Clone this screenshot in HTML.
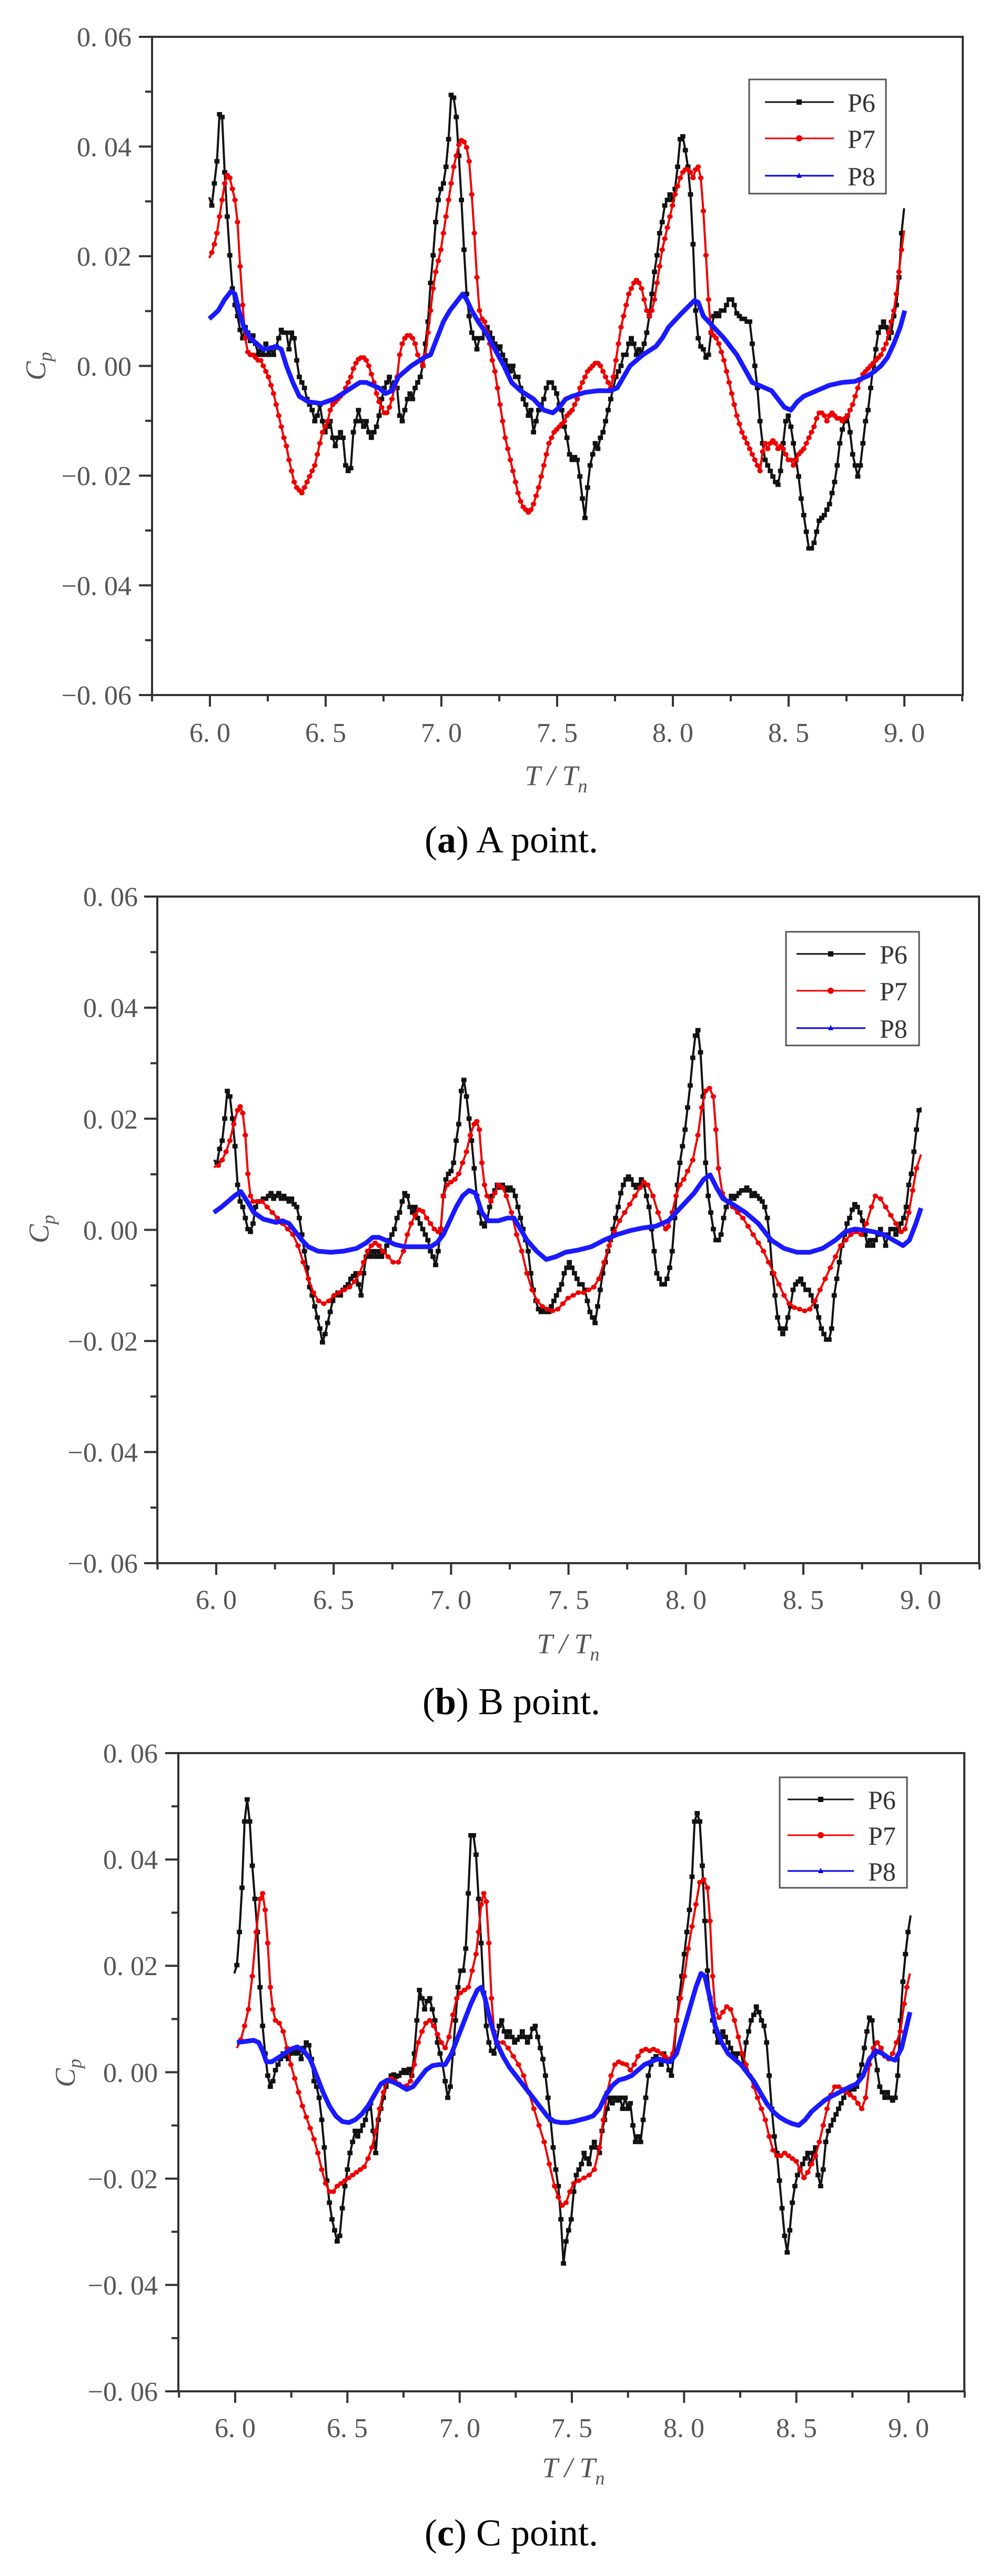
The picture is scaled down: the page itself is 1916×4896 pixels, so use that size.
<!DOCTYPE html>
<html><head><meta charset="utf-8"><style>
html,body{margin:0;padding:0;background:#fff}
svg{display:block}
.tl{font-family:"Liberation Serif","Noto Serif CJK SC",serif;font-size:52px;fill:#555}
.lg{font-family:"Liberation Serif",serif;font-size:50px;fill:#333}
.cap{font-family:"Liberation Serif",serif;font-size:72px;fill:#000}
.ax{font-family:"Liberation Serif",serif;font-size:54px;fill:#555;font-style:italic}
</style></head><body>
<svg width="1916" height="4896" viewBox="0 0 1916 4896" xmlns="http://www.w3.org/2000/svg">
<defs>
<marker id="ms" markerUnits="userSpaceOnUse" markerWidth="10" markerHeight="10" refX="5" refY="5"><rect x="1" y="1" width="8" height="8" fill="#111"/></marker>
<marker id="mc" markerUnits="userSpaceOnUse" markerWidth="10" markerHeight="10" refX="5" refY="5"><circle cx="5" cy="5" r="4.3" fill="#e00"/></marker>
</defs>
<rect width="1916" height="4896" fill="#fff"/>

<!-- ================= PANEL A ================= -->
<g stroke="#333" stroke-width="4" fill="none">
<rect x="289" y="70" width="1541" height="1251"/>
<path d="M264 70H289M276 174.25H289M264 278.5H289M276 382.75H289M264 487H289M276 591.25H289M264 695.5H289M276 799.75H289M264 904H289M276 1008.25H289M264 1112.5H289M276 1216.75H289M264 1321H289"/>
<path d="M289 1321V1333M399 1321V1343M509 1321V1333M619 1321V1343M729 1321V1333M839 1321V1343M949 1321V1333M1059 1321V1343M1169 1321V1333M1279 1321V1343M1389 1321V1333M1499 1321V1343M1609 1321V1333M1719 1321V1343M1829 1321V1333"/>
</g>
<g class="tl" text-anchor="end">
<text x="250" y="88">0. 06</text><text x="250" y="297">0. 04</text><text x="250" y="505">0. 02</text><text x="250" y="714">0. 00</text><text x="250" y="922">−0. 02</text><text x="250" y="1131">−0. 04</text><text x="250" y="1339">−0. 06</text>
</g>
<g class="tl" text-anchor="middle">
<text x="399" y="1410">6. 0</text><text x="619" y="1410">6. 5</text><text x="839" y="1410">7. 0</text><text x="1059" y="1410">7. 5</text><text x="1279" y="1410">8. 0</text><text x="1499" y="1410">8. 5</text><text x="1719" y="1410">9. 0</text>
</g>
<text class="ax" x="1057" y="1492" text-anchor="middle">T / T<tspan font-size="36" dy="14">n</tspan></text>
<text class="ax" transform="translate(86,696) rotate(-90)" text-anchor="middle">C<tspan font-size="36" dy="12">p</tspan></text>
<text class="cap" x="972" y="1620" text-anchor="middle">(<tspan font-weight="bold">a</tspan>) A point.</text>
<g>
<rect x="1424" y="151" width="260" height="217" fill="#fff" stroke="#555" stroke-width="3"/>
<path d="M1454 194H1585" stroke="#111" stroke-width="3"/><rect x="1514" y="189" width="10" height="10" fill="#111"/>
<path d="M1454 263H1585" stroke="#e00" stroke-width="3"/><circle cx="1519" cy="263" r="6" fill="#e00"/>
<path d="M1454 334H1585" stroke="#00e" stroke-width="3"/><path d="M1519 328L1524 338H1514Z" fill="#00e"/>
<text class="lg" x="1611" y="212">P6</text><text class="lg" x="1611" y="281">P7</text><text class="lg" x="1611" y="352">P8</text>
</g>
<g transform="matrix(1.223,0,0,1.051,-1,1.7)" fill="none" stroke-linejoin="round">
<polyline vector-effect="non-scaling-stroke" stroke="#111" stroke-width="4" marker-mid="url(#ms)" points="326,355 330,370 334,330 338,290 342,205 346,210 350,310 354,390 358,460 362,520 366,550 370,570 374,595 378,610 382,590 386,600 390,615 394,605 398,620 402,640 406,630 410,640 414,620 418,640 422,630 426,640 430,625 434,610 438,595 442,600 446,600 450,630 454,600 458,610 462,650 466,680 470,690 474,700 478,720 482,730 486,740 490,760 494,750 498,730 502,760 506,780 510,770 514,760 518,790 522,805 526,790 530,780 534,790 538,840 542,850 546,845 550,780 554,760 558,740 562,760 566,770 570,760 574,780 578,790 582,780 586,770 590,750 594,720 598,700 602,690 606,680 610,700 614,690 618,700 622,750 626,760 630,740 634,720 638,710 642,720 646,700 650,690 654,680 658,660 662,620 666,580 670,510 674,460 678,400 682,360 686,340 690,330 694,300 698,250 702,170 706,175 710,210 714,280 718,360 722,450 726,530 730,570 734,600 738,610 742,630 746,610 750,610 754,600 758,590 762,600 766,610 770,620 774,630 778,625 782,640 786,650 790,660 794,670 798,660 802,680 806,680 810,700 814,720 818,730 822,750 826,740 830,780 834,760 838,740 842,730 846,720 850,700 854,690 858,690 862,700 866,710 870,730 874,740 878,770 882,790 886,820 890,830 894,825 898,830 902,860 906,900 910,935 914,880 918,840 922,820 926,800 930,810 934,790 938,780 942,760 946,740 950,720 954,700 958,680 962,670 966,660 970,640 974,640 978,620 982,610 986,620 990,640 994,630 998,640 1002,620 1006,600 1010,570 1014,530 1018,490 1022,460 1026,420 1030,400 1034,370 1038,360 1042,350 1046,360 1050,340 1054,300 1058,250 1062,245 1066,270 1070,300 1074,350 1078,440 1082,560 1086,610 1090,625 1094,630 1098,645 1102,640 1106,600 1110,570 1114,565 1118,570 1122,560 1126,560 1130,550 1134,540 1138,540 1142,550 1146,565 1150,570 1154,575 1158,575 1162,580 1166,580 1170,620 1174,660 1178,700 1182,760 1186,800 1190,830 1194,840 1198,850 1202,860 1206,870 1210,875 1214,850 1218,800 1222,760 1226,750 1230,770 1234,800 1238,830 1242,860 1246,900 1250,930 1254,960 1258,990 1262,990 1266,980 1270,960 1274,940 1278,935 1282,930 1286,920 1290,910 1294,890 1298,870 1302,840 1306,800 1310,775 1314,760 1318,750 1322,780 1326,820 1330,840 1334,860 1338,840 1342,800 1346,760 1350,740 1354,700 1358,660 1362,630 1366,600 1370,590 1374,580 1378,590 1382,610 1386,600 1390,570 1394,550 1398,500 1402,420 1406,375"/>
<polyline vector-effect="non-scaling-stroke" stroke="#e00" stroke-width="4" marker-mid="url(#mc)" points="326,465 330,455 334,440 338,420 342,390 346,360 350,330 354,315 358,320 362,340 366,360 370,400 374,480 378,550 382,610 386,635 390,640 394,640 398,645 402,650 406,650 410,660 414,670 418,680 422,695 426,710 430,730 434,750 438,770 442,790 446,805 450,830 454,850 458,870 462,880 466,885 470,890 474,880 478,870 482,860 486,850 490,840 494,820 498,800 502,780 506,770 510,760 514,740 518,730 522,725 526,720 530,715 534,710 538,700 542,690 546,680 550,665 554,655 558,648 562,645 566,645 570,650 574,660 578,675 582,690 586,710 590,725 594,735 598,745 602,745 606,735 610,720 614,700 618,680 622,640 626,620 630,610 634,605 638,605 642,610 646,620 650,640 654,650 658,660 662,640 666,600 670,560 674,520 678,490 682,470 686,450 690,420 694,390 698,360 702,330 706,300 710,280 714,260 718,252 722,255 726,265 730,290 734,350 738,420 742,500 746,560 750,575 754,580 758,600 762,620 766,650 770,670 774,700 778,730 782,760 786,790 790,810 794,830 798,850 802,870 806,890 810,905 814,915 818,920 822,925 826,920 830,910 834,895 838,880 842,860 846,840 850,820 854,800 858,790 862,780 866,775 870,770 874,765 878,760 882,750 886,745 890,740 894,730 898,720 902,700 906,690 910,680 914,670 918,665 922,660 926,655 930,655 934,660 938,670 942,680 946,690 950,700 954,680 958,650 962,620 966,590 970,570 974,550 978,530 982,520 986,510 990,505 994,510 998,520 1002,540 1006,560 1010,570 1014,560 1018,540 1022,510 1026,480 1030,450 1034,430 1038,410 1042,390 1046,370 1050,350 1054,335 1058,320 1062,310 1066,305 1070,305 1074,310 1078,320 1082,305 1086,300 1090,320 1094,380 1098,460 1102,540 1106,600 1110,605 1114,610 1118,620 1122,635 1126,650 1130,670 1134,690 1138,710 1142,730 1146,750 1150,765 1154,780 1158,790 1162,800 1166,810 1170,820 1174,830 1178,840 1182,850 1186,815 1190,800 1194,810 1198,800 1202,795 1206,800 1210,810 1214,805 1218,810 1222,820 1226,830 1230,830 1234,840 1238,830 1242,820 1246,815 1250,810 1254,800 1258,790 1262,780 1266,770 1270,755 1274,745 1278,745 1282,750 1286,760 1290,750 1294,745 1298,750 1302,755 1306,755 1310,760 1314,755 1318,750 1322,740 1326,730 1330,715 1334,700 1338,685 1342,675 1346,670 1350,665 1354,660 1358,655 1362,650 1366,645 1370,640 1374,630 1378,620 1382,600 1386,580 1390,560 1394,530 1398,490 1402,450 1406,415"/>
<polyline vector-effect="non-scaling-stroke" stroke="#1a1aff" stroke-width="9" points="326,575 340,560 350,540 360,525 366,530 372,560 380,590 390,610 400,620 410,630 420,628 430,625 438,630 446,660 456,690 466,715 480,725 500,728 520,720 540,705 560,690 570,690 580,695 590,700 600,710 610,705 620,680 640,660 660,645 670,640 680,610 690,580 700,560 710,545 720,530 726,540 734,560 744,580 756,600 770,630 784,660 796,690 810,705 830,720 846,740 860,745 870,735 880,720 890,715 910,708 930,705 950,705 960,700 970,680 980,660 1000,640 1020,625 1030,610 1040,590 1060,565 1080,542 1086,545 1094,570 1110,590 1126,610 1146,640 1158,665 1170,690 1190,700 1200,705 1210,720 1220,735 1230,740 1240,725 1250,715 1270,705 1290,695 1310,690 1330,688 1340,683 1350,678 1360,670 1370,660 1380,645 1390,620 1400,590 1407,560"/>
</g>

<!-- ================= PANEL B ================= -->
<g stroke="#333" stroke-width="4" fill="none">
<rect x="299" y="1704" width="1562" height="1267"/>
<path d="M274 1704H299M286 1809.6H299M274 1915.2H299M286 2020.8H299M274 2126.3H299M286 2231.9H299M274 2337.5H299M286 2443.1H299M274 2548.7H299M286 2654.3H299M274 2759.8H299M286 2865.4H299M274 2971H299"/>
<path d="M299.4 2971V2983M411 2971V2993M522.6 2971V2983M634.2 2971V2993M745.8 2971V2983M857.4 2971V2993M969 2971V2983M1080.6 2971V2993M1192.2 2971V2983M1303.8 2971V2993M1415.4 2971V2983M1527 2971V2993M1638.6 2971V2983M1750.2 2971V2993M1861.8 2971V2983"/>
</g>
<g class="tl" text-anchor="end">
<text x="262" y="1722">0. 06</text><text x="262" y="1933">0. 04</text><text x="262" y="2145">0. 02</text><text x="262" y="2356">0. 00</text><text x="262" y="2567">−0. 02</text><text x="262" y="2778">−0. 04</text><text x="262" y="2989">−0. 06</text>
</g>
<g class="tl" text-anchor="middle">
<text x="411" y="3058">6. 0</text><text x="634" y="3058">6. 5</text><text x="857" y="3058">7. 0</text><text x="1081" y="3058">7. 5</text><text x="1304" y="3058">8. 0</text><text x="1527" y="3058">8. 5</text><text x="1750" y="3058">9. 0</text>
</g>
<text class="ax" x="1080" y="3142" text-anchor="middle">T / T<tspan font-size="36" dy="14">n</tspan></text>
<text class="ax" transform="translate(92,2336) rotate(-90)" text-anchor="middle">C<tspan font-size="36" dy="12">p</tspan></text>
<text class="cap" x="972" y="3258" text-anchor="middle">(<tspan font-weight="bold">b</tspan>) B point.</text>
<g>
<rect x="1494" y="1771" width="253" height="216" fill="#fff" stroke="#555" stroke-width="3"/>
<path d="M1514 1813H1645" stroke="#111" stroke-width="3"/><rect x="1574" y="1808" width="10" height="10" fill="#111"/>
<path d="M1514 1883H1645" stroke="#e00" stroke-width="3"/><circle cx="1579" cy="1883" r="6" fill="#e00"/>
<path d="M1514 1954H1645" stroke="#00e" stroke-width="3"/><path d="M1579 1948L1584 1958H1574Z" fill="#00e"/>
<text class="lg" x="1672" y="1831">P6</text><text class="lg" x="1672" y="1901">P7</text><text class="lg" x="1672" y="1972">P8</text>
</g>
<g transform="matrix(1.222,0,0,1.05,-0.5,1622)" fill="none" stroke-linejoin="round">
<polyline vector-effect="non-scaling-stroke" stroke="#111" stroke-width="4" marker-mid="url(#ms)" points="333,555 338,560 342,535 346,520 350,480 354,430 358,440 362,480 366,530 370,600 374,630 378,640 382,660 386,680 390,685 394,670 398,640 402,630 406,630 410,625 414,625 418,620 422,615 426,625 430,620 434,615 438,625 442,620 446,625 450,630 454,625 458,635 462,640 466,660 470,690 474,720 478,750 482,785 486,800 490,820 494,840 498,860 502,885 506,870 510,850 514,830 518,810 522,800 526,795 530,800 534,790 538,785 542,780 546,770 550,765 554,760 558,780 562,800 566,760 570,730 574,720 578,730 582,720 586,730 590,720 594,730 598,720 602,710 606,700 610,690 614,680 618,660 622,650 626,630 630,615 634,620 638,640 642,650 646,640 650,660 654,670 658,680 662,690 666,700 670,720 674,730 678,745 682,720 686,680 690,620 694,590 698,580 702,575 706,560 710,520 714,490 718,430 722,410 726,440 730,480 734,520 738,570 742,620 746,650 750,670 754,675 758,665 762,640 766,620 770,610 774,600 778,605 782,600 786,605 790,610 794,605 798,610 802,620 806,640 810,660 814,680 818,700 822,720 826,760 830,790 834,810 838,825 842,830 846,825 850,830 854,830 858,820 862,810 866,800 870,790 874,780 878,760 882,750 886,740 890,750 894,760 898,770 902,780 906,780 910,790 914,810 918,830 922,840 926,850 930,820 934,790 938,760 942,740 946,720 950,700 954,680 958,660 962,640 966,615 970,600 974,590 978,585 982,590 986,600 990,605 994,600 998,590 1002,600 1006,620 1010,640 1014,680 1018,720 1022,760 1026,770 1030,780 1034,780 1038,770 1042,750 1046,720 1050,660 1054,600 1058,560 1062,530 1066,500 1070,460 1074,420 1078,370 1082,330 1086,320 1090,360 1094,440 1098,560 1102,620 1106,650 1110,680 1114,700 1118,700 1122,690 1126,660 1130,640 1134,630 1138,620 1142,625 1146,620 1150,615 1154,610 1158,610 1162,605 1166,610 1170,620 1174,615 1178,620 1182,625 1186,630 1190,640 1194,660 1198,700 1202,760 1206,800 1210,840 1214,860 1218,870 1222,860 1226,840 1230,820 1234,790 1238,780 1242,775 1246,770 1250,780 1254,790 1258,790 1262,800 1266,810 1270,820 1274,840 1278,860 1282,870 1286,880 1290,880 1294,860 1298,800 1302,770 1306,740 1310,710 1314,690 1318,670 1322,660 1326,645 1330,635 1334,640 1338,650 1342,665 1346,690 1350,710 1354,700 1358,710 1362,700 1366,690 1370,680 1374,690 1378,710 1382,690 1386,680 1390,680 1394,690 1398,680 1402,670 1406,660 1410,640 1414,600 1418,580 1422,540 1426,500 1430,465 1433,460"/>
<polyline vector-effect="non-scaling-stroke" stroke="#e00" stroke-width="4" marker-mid="url(#mc)" points="333,568 340,565 346,555 352,540 358,520 364,490 370,465 374,458 378,470 382,510 386,580 390,620 394,630 400,630 408,630 416,640 424,650 432,660 440,670 448,680 456,690 464,710 472,740 480,770 488,795 496,810 504,815 512,810 520,800 528,795 536,790 544,785 552,775 560,760 566,740 572,720 578,710 584,705 590,710 596,720 604,730 612,740 620,740 628,720 634,690 640,670 646,655 652,645 658,648 664,660 670,670 676,680 682,685 686,680 690,620 696,600 702,595 708,590 714,580 720,560 726,540 732,510 738,490 742,485 746,500 750,560 754,600 758,620 764,630 770,615 776,600 782,605 788,620 796,650 804,690 812,720 820,760 828,790 836,810 844,820 852,825 860,828 868,825 876,815 884,805 892,800 900,795 908,795 916,790 924,785 932,770 940,740 948,710 956,685 964,665 972,650 980,635 988,620 996,605 1002,595 1008,600 1016,620 1024,650 1030,670 1036,680 1040,675 1046,650 1052,620 1058,600 1064,590 1070,575 1078,555 1086,510 1092,460 1098,430 1104,425 1110,440 1114,500 1118,570 1124,615 1132,630 1140,640 1148,650 1156,660 1164,675 1172,690 1180,705 1188,720 1196,740 1204,760 1212,780 1220,800 1228,815 1236,822 1244,825 1252,828 1260,825 1268,810 1276,790 1284,770 1292,750 1300,730 1308,710 1316,700 1324,690 1332,685 1340,690 1348,670 1356,640 1362,620 1370,625 1378,640 1386,655 1394,670 1402,685 1408,680 1414,650 1420,610 1426,570 1433,545"/>
<polyline vector-effect="non-scaling-stroke" stroke="#1a1aff" stroke-width="9" points="333,650 345,640 355,630 365,620 375,612 385,630 395,650 410,662 430,668 440,665 450,670 460,685 470,700 480,712 495,720 515,722 535,720 555,715 570,705 580,695 590,695 600,700 615,708 630,712 650,712 670,712 680,705 690,690 700,665 710,640 720,620 730,610 740,615 750,650 760,665 775,665 790,660 800,660 810,680 820,700 835,720 850,735 865,730 880,722 900,718 920,712 940,700 960,690 980,683 1000,678 1020,675 1040,665 1060,640 1080,615 1095,590 1105,582 1115,605 1125,625 1140,635 1160,650 1180,670 1200,700 1220,715 1240,722 1260,722 1280,715 1300,700 1315,685 1330,680 1345,682 1360,685 1375,690 1390,700 1405,710 1415,700 1425,670 1433,642"/>
</g>

<!-- ================= PANEL C ================= -->
<g stroke="#333" stroke-width="4" fill="none">
<rect x="339" y="3332" width="1494" height="1213"/>
<path d="M314 3332H339M326 3433.1H339M314 3534.2H339M326 3635.3H339M314 3736.3H339M326 3837.4H339M314 3938.5H339M326 4039.6H339M314 4140.7H339M326 4241.8H339M314 4342.8H339M326 4443.9H339M314 4545H339"/>
<path d="M340.3 4545V4557M447 4545V4567M553.7 4545V4557M660.3 4545V4567M767 4545V4557M873.7 4545V4567M980.3 4545V4557M1087 4545V4567M1193.7 4545V4557M1300.3 4545V4567M1407 4545V4557M1513.7 4545V4567M1620.3 4545V4557M1727 4545V4567M1833.7 4545V4557"/>
</g>
<g class="tl" text-anchor="end">
<text x="300" y="3350">0. 06</text><text x="300" y="3552">0. 04</text><text x="300" y="3754">0. 02</text><text x="300" y="3957">0. 00</text><text x="300" y="4159">−0. 02</text><text x="300" y="4361">−0. 04</text><text x="300" y="4563">−0. 06</text>
</g>
<g class="tl" text-anchor="middle">
<text x="447" y="4632">6. 0</text><text x="660" y="4632">6. 5</text><text x="874" y="4632">7. 0</text><text x="1087" y="4632">7. 5</text><text x="1300" y="4632">8. 0</text><text x="1514" y="4632">8. 5</text><text x="1727" y="4632">9. 0</text>
</g>
<text class="ax" x="1090" y="4708" text-anchor="middle">T  /  T<tspan font-size="36" dy="14">n</tspan></text>
<text class="ax" transform="translate(142,3940) rotate(-90)" text-anchor="middle">C<tspan font-size="36" dy="12">p</tspan></text>
<text class="cap" x="972" y="4838" text-anchor="middle">(<tspan font-weight="bold">c</tspan>) C point.</text>
<g>
<rect x="1482" y="3378" width="242" height="210" fill="#fff" stroke="#555" stroke-width="3"/>
<path d="M1497 3420H1623" stroke="#111" stroke-width="3"/><rect x="1555" y="3415" width="10" height="10" fill="#111"/>
<path d="M1497 3488H1623" stroke="#e00" stroke-width="3"/><circle cx="1560" cy="3488" r="6" fill="#e00"/>
<path d="M1497 3556H1623" stroke="#00e" stroke-width="3"/><path d="M1560 3550L1565 3560H1555Z" fill="#00e"/>
<text class="lg" x="1650" y="3438">P6</text><text class="lg" x="1650" y="3506">P7</text><text class="lg" x="1650" y="3574">P8</text>
</g>
<g transform="matrix(1.222,0,0,1.05,3,3252)" fill="none" stroke-linejoin="round">
<polyline vector-effect="non-scaling-stroke" stroke="#111" stroke-width="4" marker-mid="url(#ms)" points="362,475 366,460 370,400 374,320 378,200 382,160 386,200 390,280 394,340 398,400 402,500 406,570 410,620 414,660 418,680 422,670 426,650 430,640 434,630 438,620 442,625 446,630 450,620 454,615 458,620 462,615 466,630 470,610 474,600 478,605 482,630 486,670 490,680 494,700 498,740 502,790 506,850 510,890 514,920 518,940 522,960 526,950 530,900 534,860 538,830 542,800 546,780 550,760 554,770 558,760 562,750 566,740 570,720 574,710 578,760 582,800 586,740 590,720 594,700 598,680 602,670 606,660 610,658 614,662 618,660 622,655 626,650 630,655 634,648 638,660 642,620 646,560 650,505 654,520 658,540 662,525 666,520 670,540 674,560 678,600 682,620 686,640 690,670 694,700 698,680 702,620 706,560 710,500 714,470 718,470 722,430 726,330 730,225 734,225 738,260 742,340 746,420 750,510 754,570 758,600 762,615 766,620 770,600 774,570 778,560 782,580 786,590 790,580 794,590 798,600 802,595 806,590 810,580 814,590 818,600 822,590 826,575 830,570 834,590 838,610 842,630 846,660 850,700 854,740 858,790 862,830 866,860 870,920 874,1000 878,960 882,940 886,920 890,870 894,840 898,830 902,820 906,800 910,810 914,820 918,790 922,780 926,790 930,800 934,760 938,740 942,720 946,700 950,710 954,700 958,705 962,700 966,720 970,700 974,720 978,710 982,750 986,780 990,770 994,780 998,740 1002,700 1006,660 1010,640 1014,630 1018,625 1022,630 1026,640 1030,620 1034,630 1038,650 1042,660 1046,620 1050,560 1054,520 1058,480 1062,440 1066,400 1070,360 1074,300 1078,200 1082,185 1086,200 1090,280 1094,380 1098,470 1102,520 1106,560 1110,580 1114,600 1118,590 1122,580 1126,590 1130,600 1134,610 1138,620 1142,630 1146,620 1150,620 1154,640 1158,600 1162,580 1166,560 1170,550 1174,535 1178,545 1182,560 1186,570 1190,600 1194,660 1198,720 1202,770 1206,800 1210,850 1214,900 1218,950 1222,980 1226,940 1230,890 1234,860 1238,840 1242,830 1246,820 1250,810 1254,800 1258,820 1262,800 1266,790 1270,840 1274,860 1278,830 1282,780 1286,760 1290,750 1294,740 1298,730 1302,720 1306,710 1310,700 1314,690 1318,690 1322,680 1326,685 1330,680 1334,660 1338,640 1342,610 1346,580 1350,555 1354,560 1358,620 1362,650 1366,680 1370,690 1374,700 1378,690 1382,700 1386,705 1390,700 1394,660 1398,560 1402,490 1406,440 1410,400 1414,370"/>
<polyline vector-effect="non-scaling-stroke" stroke="#e00" stroke-width="4" marker-mid="url(#mc)" points="366,610 372,595 378,570 384,540 390,480 396,400 402,340 406,330 410,360 414,420 418,500 422,540 426,560 432,565 438,580 444,610 450,640 456,665 462,690 468,715 474,735 480,755 486,775 492,800 498,830 504,855 510,870 516,870 522,860 528,855 534,850 540,845 546,840 552,835 558,830 564,825 570,810 576,790 582,760 588,720 594,690 600,670 606,665 612,670 618,675 624,680 630,678 636,670 642,640 648,600 654,580 660,565 666,560 672,570 678,585 684,600 690,610 696,590 702,550 708,520 714,510 720,505 726,500 732,470 738,440 742,400 746,350 750,330 754,345 758,420 762,520 766,580 772,600 780,600 788,610 796,625 804,640 812,660 820,690 828,720 836,750 844,780 852,820 860,860 866,880 872,895 878,890 884,870 890,855 898,850 906,845 914,840 922,830 930,790 936,740 942,690 948,660 954,640 960,635 966,638 972,640 978,650 984,640 990,625 996,615 1002,612 1008,615 1014,612 1020,615 1026,620 1032,625 1038,630 1044,620 1050,560 1056,520 1062,480 1068,430 1074,390 1080,350 1086,310 1092,305 1098,320 1102,380 1106,480 1110,540 1116,555 1122,545 1128,535 1134,540 1140,560 1146,590 1152,620 1158,640 1164,660 1170,680 1176,700 1182,720 1188,740 1194,770 1200,795 1206,805 1212,805 1218,800 1224,805 1230,810 1236,815 1242,830 1248,845 1254,835 1260,820 1266,805 1272,780 1278,750 1284,720 1290,695 1296,680 1302,680 1308,685 1314,690 1320,695 1326,700 1332,710 1338,720 1344,700 1350,640 1356,610 1362,600 1368,610 1374,625 1380,630 1386,620 1392,600 1398,580 1404,530 1408,500 1413,475"/>
<polyline vector-effect="non-scaling-stroke" stroke="#1a1aff" stroke-width="9" points="366,600 380,598 392,596 400,600 406,615 412,635 420,635 430,628 440,620 450,612 460,608 470,615 480,630 490,660 500,690 510,715 520,733 530,743 540,745 550,740 560,730 570,715 580,695 590,675 600,668 610,672 620,678 630,685 640,680 650,665 660,650 670,642 680,640 690,640 700,620 710,590 720,560 730,530 740,505 746,500 752,520 760,560 770,600 780,625 790,645 800,660 810,675 820,690 830,705 840,720 850,735 860,743 870,745 880,745 890,743 900,740 910,737 920,733 930,720 940,695 950,678 960,668 970,665 980,660 990,650 1000,640 1010,635 1020,630 1030,633 1040,635 1050,620 1060,580 1070,540 1080,500 1088,475 1094,480 1100,510 1110,570 1120,600 1130,620 1140,630 1150,640 1160,655 1170,670 1180,690 1190,710 1200,725 1210,735 1220,742 1230,747 1240,750 1250,740 1260,725 1270,715 1280,705 1290,698 1300,692 1310,686 1320,680 1330,675 1340,660 1350,630 1360,615 1370,620 1380,628 1390,632 1400,610 1408,570 1413,545"/>
</g>
</svg>
</body></html>
